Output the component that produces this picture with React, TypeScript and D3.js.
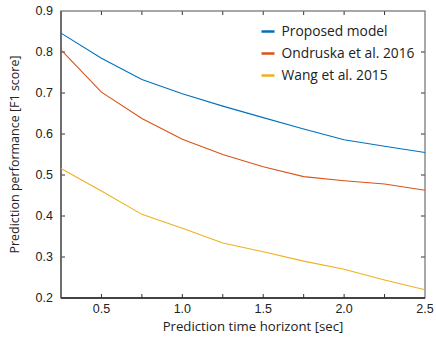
import React, { useEffect, useRef } from 'react';
import * as d3 from 'd3';

const horizons = [0.25, 0.5, 0.75, 1.0, 1.25, 1.5, 1.75, 2.0, 2.25, 2.5];
const proposed = [0.846, 0.785, 0.733, 0.698, 0.668, 0.64, 0.612, 0.586, 0.57, 0.555];
const ondruska = [0.805, 0.702, 0.638, 0.587, 0.55, 0.52, 0.496, 0.486, 0.478, 0.463];
const wang = [0.516, 0.461, 0.404, 0.37, 0.334, 0.313, 0.29, 0.27, 0.244, 0.22];
const seriesNames = ['Proposed model', 'Ondruska et al. 2016', 'Wang et al. 2015'];
const xTickLabels = [0.5, 1.0, 1.5, 2.0, 2.5];
const yTickLabels = [0.2, 0.3, 0.4, 0.5, 0.6, 0.7, 0.8, 0.9];

const App = () => {
  const ref = useRef<SVGSVGElement>(null);

  useEffect(() => {
    const width = 436;
    const height = 337;
    const margin = { top: 11, right: 11, bottom: 39, left: 61 };
    const w = width - margin.left - margin.right;
    const h = height - margin.top - margin.bottom;

    const svg = d3.select(ref.current);
    svg.selectAll('*').remove();

    const g = svg.append('g').attr('transform', `translate(${margin.left},${margin.top})`);

    const x = d3.scaleLinear().domain([0.25, 2.5]).range([0, w]);
    const y = d3.scaleLinear().domain([0.2, 0.9]).range([h, 0]);

    const colours = ['#0072BD', '#D95319', '#EDB120'];
    const allSeries = [proposed, ondruska, wang];
    const tickFont = '"Liberation Sans", Arial, sans-serif';
    const labelFont = '"Open Sans", sans-serif';
    const axisColour = '#6e6e6e';

    // tick marks on all four sides, pointing inward
    const tickLen = 4;
    horizons.slice(1, -1).forEach(v => {
      g.append('line').attr('x1', x(v)).attr('x2', x(v)).attr('y1', h).attr('y2', h - tickLen)
        .attr('stroke', '#333').attr('stroke-width', 1);
      g.append('line').attr('x1', x(v)).attr('x2', x(v)).attr('y1', 0).attr('y2', tickLen)
        .attr('stroke', '#333').attr('stroke-width', 1);
    });
    yTickLabels.slice(1, -1).forEach(v => {
      g.append('line').attr('x1', 0).attr('x2', tickLen).attr('y1', y(v)).attr('y2', y(v))
        .attr('stroke', '#333').attr('stroke-width', 1);
      g.append('line').attr('x1', w).attr('x2', w - tickLen).attr('y1', y(v)).attr('y2', y(v))
        .attr('stroke', '#333').attr('stroke-width', 1);
    });

    // box
    g.append('rect').attr('x', 0).attr('y', 0).attr('width', w).attr('height', h)
      .attr('fill', 'none').attr('stroke', axisColour).attr('stroke-width', 1.2);
    g.append('line').attr('x1', 0).attr('x2', w).attr('y1', h).attr('y2', h)
      .attr('stroke', '#222').attr('stroke-width', 1.4);
    g.append('line').attr('x1', 0).attr('x2', 0).attr('y1', 0).attr('y2', h)
      .attr('stroke', '#555').attr('stroke-width', 1.4);

    // tick labels
    g.selectAll('.xt').data(xTickLabels).enter().append('text')
      .attr('x', d => x(d)).attr('y', h + 15)
      .attr('text-anchor', 'middle').attr('font-family', tickFont).attr('font-size', 12.5)
      .attr('fill', '#222').text(d => d.toFixed(1));
    g.selectAll('.yt').data(yTickLabels).enter().append('text')
      .attr('x', -8).attr('y', d => y(d)).attr('dy', '0.35em')
      .attr('text-anchor', 'end').attr('font-family', tickFont).attr('font-size', 12.5)
      .attr('fill', '#222').text(d => d.toFixed(1));

    // lines
    const line = d3.line<number>().x((_, i) => x(horizons[i])).y(d => y(d));
    allSeries.forEach((s, i) => {
      g.append('path').datum(s).attr('d', line).attr('fill', 'none')
        .attr('stroke', colours[i]).attr('stroke-width', 1.1);
    });

    // axis labels
    g.append('text').attr('x', 253 - margin.left).attr('y', 330.5 - margin.top).attr('text-anchor', 'middle')
      .attr('font-family', labelFont).attr('font-size', 13.2).attr('fill', '#222')
      .text('Prediction time horizont [sec]');
    g.append('text').attr('transform', `translate(${-42},${h / 2}) rotate(-90)`)
      .attr('text-anchor', 'middle')
      .attr('font-family', labelFont).attr('font-size', 12.5).attr('fill', '#222')
      .text('Prediction performance [F1 score]');

    // legend
    const legend = g.append('g').attr('transform', `translate(${261.5 - margin.left},${31.5 - margin.top})`);
    seriesNames.forEach((name, i) => {
      legend.append('line').attr('x1', 0).attr('x2', 13).attr('y1', i * 22).attr('y2', i * 22)
        .attr('stroke', colours[i]).attr('stroke-width', 2.5);
      legend.append('text').attr('x', 20).attr('y', i * 22).attr('dy', '0.35em')
        .attr('font-family', labelFont).attr('font-size', 13.8).attr('fill', '#222')
        .text(name);
    });
  });

  return <svg ref={ref} width={436} height={337} style={{ display: 'block', position: 'absolute', left: 0, top: 0 }} />;
};

export default App;
